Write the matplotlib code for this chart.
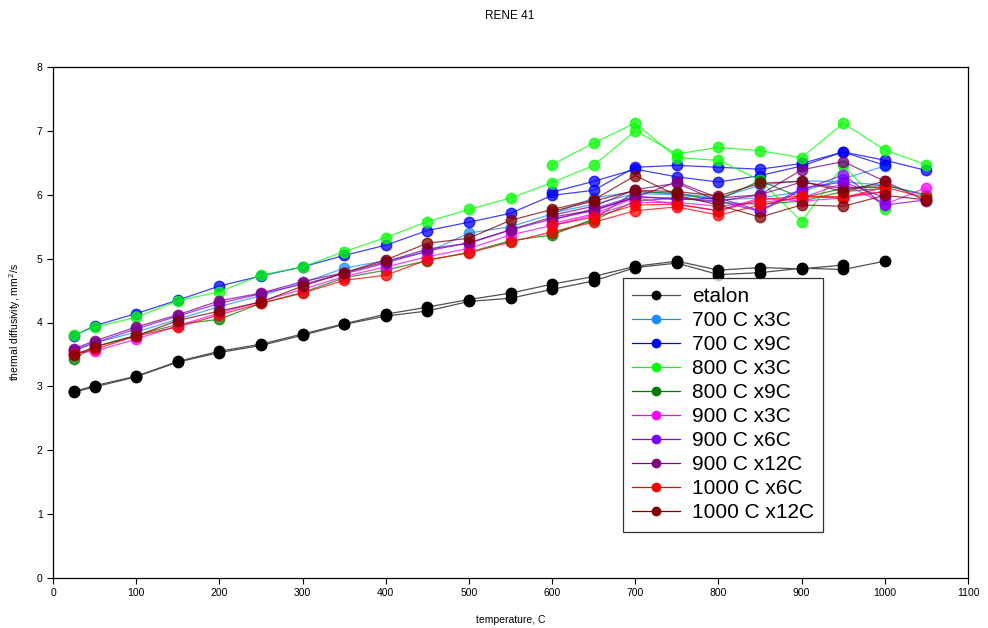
import numpy as np
import matplotlib
matplotlib.use("Agg")
import matplotlib.pyplot as plt

plt.rcParams["font.family"] = ["Liberation Sans", "DejaVu Sans"]

# temperatures, C
t_heat = [25, 50, 100, 150, 200, 250, 300, 350, 400, 450, 500, 550,
          600, 650, 700, 750, 800, 850, 900, 950, 1000, 1050]
t_cool = [1000, 950, 900, 850, 800, 750, 700, 650, 600]

# etalon: heating to 1000, then cooling back to 25
t_etalon_heat = [25, 50, 100, 150, 200, 250, 300, 350, 400, 450, 500, 550,
                 600, 650, 700, 750, 800, 850, 900, 950, 1000]
etalon_heat = [2.91, 2.99, 3.15, 3.38, 3.53, 3.64, 3.80, 3.97, 4.10, 4.18, 4.33,
               4.38, 4.52, 4.65, 4.86, 4.93, 4.75, 4.78, 4.85, 4.83, 4.96]
t_etalon_cool = [950, 900, 850, 800, 750, 700, 650, 600, 550, 500, 450, 400,
                 350, 300, 250, 200, 150, 100, 50, 25]
etalon_cool = [4.90, 4.84, 4.86, 4.82, 4.96, 4.88, 4.72, 4.60, 4.46, 4.36,
               4.24, 4.13, 3.98, 3.82, 3.66, 3.55, 3.39, 3.16, 3.01, 2.92]

# samples: heating values on t_heat, cooling values on t_cool
labels = ["700 C x3C", "700 C x9C", "800 C x3C", "800 C x9C", "900 C x3C",
          "900 C x6C", "900 C x12C", "1000 C x6C", "1000 C x12C"]
colors = ["#1e8cff", "#0000ff", "#00ff00", "#007d00", "#ff00ff",
          "#8000ff", "#800080", "#ff0000", "#800000"]

heat_700x3 = [3.55, 3.68, 3.85, 4.05, 4.25, 4.42, 4.62, 4.85, 4.97, 5.10, 5.40,
              5.50, 5.70, 5.95, 6.05, 6.02, 5.95, 6.15, 6.22, 6.20, 6.15, 5.98]
cool_700x3 = [6.45, 6.25, 6.05, 5.95, 5.92, 6.00, 6.02, 5.85, 5.72]
heat_700x9 = [3.79, 3.95, 4.14, 4.35, 4.57, 4.73, 4.87, 5.05, 5.21, 5.44, 5.57,
              5.71, 5.99, 6.07, 6.43, 6.46, 6.43, 6.40, 6.49, 6.67, 6.54, 6.38]
cool_700x9 = [6.46, 6.67, 6.45, 6.30, 6.20, 6.28, 6.40, 6.21, 6.04]
heat_800x3 = [3.80, 3.93, 4.08, 4.34, 4.48, 4.74, 4.87, 5.11, 5.33, 5.58, 5.77,
              5.95, 6.19, 6.46, 7.00, 6.64, 6.74, 6.69, 6.58, 7.12, 6.70, 6.47]
cool_800x3 = [5.78, 6.46, 5.58, 6.23, 6.54, 6.58, 7.12, 6.81, 6.47]
heat_800x9 = [3.43, 3.62, 3.80, 3.97, 4.05, 4.30, 4.47, 4.70, 4.82, 4.97, 5.10,
              5.28, 5.37, 5.62, 6.05, 6.02, 5.92, 6.22, 5.95, 6.10, 6.15, 6.00]
cool_800x9 = [6.10, 6.05, 5.90, 5.85, 5.88, 5.95, 5.90, 5.60, 5.40]
heat_900x3 = [3.52, 3.55, 3.74, 3.95, 4.15, 4.33, 4.52, 4.72, 4.87, 5.03, 5.16,
              5.37, 5.52, 5.68, 5.88, 5.88, 5.82, 5.88, 5.95, 6.18, 5.85, 6.11]
cool_900x3 = [6.05, 5.95, 5.90, 5.95, 5.75, 5.85, 5.95, 5.70, 5.55]
heat_900x6 = [3.57, 3.68, 3.90, 4.10, 4.30, 4.45, 4.60, 4.76, 4.93, 5.12, 5.25,
              5.45, 5.62, 5.75, 5.96, 5.95, 5.90, 5.74, 6.07, 6.31, 5.84, 5.92]
cool_900x6 = [5.95, 6.20, 6.10, 5.75, 5.95, 5.92, 5.98, 5.78, 5.60]
heat_900x12 = [3.59, 3.71, 3.93, 4.12, 4.34, 4.46, 4.64, 4.78, 4.95, 5.15, 5.24,
               5.45, 5.65, 5.76, 5.96, 6.20, 5.95, 6.00, 6.39, 6.52, 6.21, 5.90]
cool_900x12 = [6.12, 6.10, 6.20, 6.00, 5.90, 6.18, 6.08, 5.82, 5.68]
heat_1000x6 = [3.50, 3.58, 3.79, 3.93, 4.12, 4.30, 4.46, 4.66, 4.74, 4.98, 5.09,
               5.26, 5.42, 5.57, 5.75, 5.81, 5.68, 5.84, 5.97, 5.95, 6.12, 5.95]
cool_1000x6 = [6.05, 5.97, 5.98, 5.92, 5.75, 5.85, 5.84, 5.65, 5.52]
heat_1000x12 = [3.49, 3.62, 3.79, 4.03, 4.18, 4.32, 4.57, 4.78, 4.98, 5.24, 5.32,
                5.60, 5.77, 5.92, 6.30, 5.99, 5.84, 5.65, 5.84, 5.82, 5.99, 5.92]
cool_1000x12 = [6.21, 6.05, 6.21, 6.18, 5.98, 6.05, 6.07, 5.90, 5.74]

heats = [heat_700x3, heat_700x9, heat_800x3, heat_800x9, heat_900x3,
         heat_900x6, heat_900x12, heat_1000x6, heat_1000x12]
cools = [cool_700x3, cool_700x9, cool_800x3, cool_800x9, cool_900x3,
         cool_900x6, cool_900x12, cool_1000x6, cool_1000x12]

fig = plt.figure(figsize=(9.88, 6.28), dpi=100)
ax = fig.add_axes([53 / 988, 1 - 578 / 628, 915 / 988, 511 / 628])

ms = 7.5
ax.plot(t_etalon_heat, etalon_heat, color="#505050", lw=0.9, marker="o",
        ms=ms, mfc="black", mec="black", label="etalon")
ax.plot(t_etalon_cool, etalon_cool, color="#505050", lw=0.9, marker="o",
        ms=ms, mfc="black", mec="black")

for lab, c, h, cl in zip(labels, colors, heats, cools):
    ax.plot(t_heat, h, color=c, lw=0.9, alpha=0.75, marker="o", ms=ms,
            mfc=c, mec=c, label=lab)
    ax.plot(t_cool, cl, color=c, lw=0.9, alpha=0.75, marker="o", ms=ms,
            mfc=c, mec=c)

ax.set_xlim(0, 1100)
ax.set_ylim(0, 8)
ax.set_xticks(np.arange(0, 1101, 100))
ax.set_yticks(np.arange(0, 9, 1))
ax.tick_params(labelsize=7.5, length=4, width=0.8, direction="out")
for s in ax.spines.values():
    s.set_linewidth(0.9)

ax.set_xlabel("temperature, C", fontsize=7.5, labelpad=12)
ax.set_ylabel("thermal diffusivity, mm$^2$/s", fontsize=7.5, labelpad=10)
fig.text(510 / 988, 1 - 16 / 628, "RENE 41", ha="center", va="center",
         fontsize=8.5)

leg = ax.legend(loc="upper left", bbox_to_anchor=((623 - 53) / 915, (578 - 278) / 511),
                fontsize=15, frameon=True, fancybox=False, edgecolor="black",
                handlelength=2.3, labelspacing=0.24, borderpad=0.45,
                handletextpad=0.55, borderaxespad=0)
leg.get_frame().set_linewidth(0.9)
for h in leg.legend_handles:
    h.set_alpha(1)
    h.set_markersize(6)

fig.savefig("out.png", dpi=100)
